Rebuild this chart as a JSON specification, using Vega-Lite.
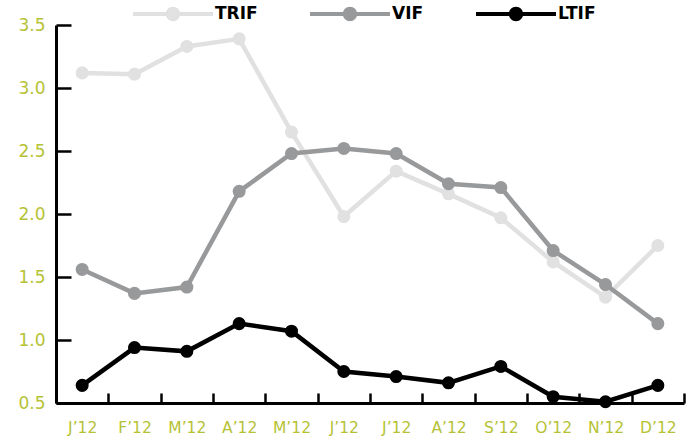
{
  "$schema": "https://vega.github.io/schema/vega-lite/v6.json",
  "width": 628,
  "height": 378,
  "autosize": {"type": "none"},
  "padding": {"left": 56, "top": 25, "right": 10, "bottom": 36},
  "background": "white",
  "config": {
    "view": {"stroke": null},
    "font": "DejaVu Sans"
  },
  "data": {
    "values": [
      {"m": 1, "series": "TRIF", "value": 3.12},
      {"m": 2, "series": "TRIF", "value": 3.11},
      {"m": 3, "series": "TRIF", "value": 3.33},
      {"m": 4, "series": "TRIF", "value": 3.39},
      {"m": 5, "series": "TRIF", "value": 2.65},
      {"m": 6, "series": "TRIF", "value": 1.98},
      {"m": 7, "series": "TRIF", "value": 2.34},
      {"m": 8, "series": "TRIF", "value": 2.16},
      {"m": 9, "series": "TRIF", "value": 1.97},
      {"m": 10, "series": "TRIF", "value": 1.62},
      {"m": 11, "series": "TRIF", "value": 1.34},
      {"m": 12, "series": "TRIF", "value": 1.75},
      {"m": 1, "series": "VIF", "value": 1.56},
      {"m": 2, "series": "VIF", "value": 1.37},
      {"m": 3, "series": "VIF", "value": 1.42},
      {"m": 4, "series": "VIF", "value": 2.18},
      {"m": 5, "series": "VIF", "value": 2.48},
      {"m": 6, "series": "VIF", "value": 2.52},
      {"m": 7, "series": "VIF", "value": 2.48},
      {"m": 8, "series": "VIF", "value": 2.24},
      {"m": 9, "series": "VIF", "value": 2.21},
      {"m": 10, "series": "VIF", "value": 1.71},
      {"m": 11, "series": "VIF", "value": 1.44},
      {"m": 12, "series": "VIF", "value": 1.13},
      {"m": 1, "series": "LTIF", "value": 0.64},
      {"m": 2, "series": "LTIF", "value": 0.94},
      {"m": 3, "series": "LTIF", "value": 0.91},
      {"m": 4, "series": "LTIF", "value": 1.13},
      {"m": 5, "series": "LTIF", "value": 1.07},
      {"m": 6, "series": "LTIF", "value": 0.75},
      {"m": 7, "series": "LTIF", "value": 0.71},
      {"m": 8, "series": "LTIF", "value": 0.66},
      {"m": 9, "series": "LTIF", "value": 0.79},
      {"m": 10, "series": "LTIF", "value": 0.55},
      {"m": 11, "series": "LTIF", "value": 0.51},
      {"m": 12, "series": "LTIF", "value": 0.64}
    ]
  },
  "mark": {"type": "line", "strokeWidth": 4.5, "point": {"size": 170, "filled": true, "opacity": 1}},
  "encoding": {
    "x": {
      "field": "m",
      "type": "ordinal",
      "scale": {"paddingInner": 0, "paddingOuter": 0},
      "axis": {
        "title": null,
        "labelAngle": 0,
        "labelExpr": "['J’12','F’12','M’12','A’12','M’12','J’12','J’12','A’12','S’12','O’12','N’12','D’12'][datum.value - 1]",
        "labelColor": "#b5c234",
        "labelFontSize": 15.5,
        "labelPadding": 27,
        "tickBand": "extent",
        "tickSize": -10,
        "tickWidth": 2.5,
        "tickColor": "black",
        "domainColor": "black",
        "domainWidth": 3,
        "grid": false
      }
    },
    "y": {
      "field": "value",
      "type": "quantitative",
      "scale": {"domain": [0.5, 3.5], "nice": false, "zero": false},
      "axis": {
        "title": null,
        "values": [0.5, 1, 1.5, 2, 2.5, 3, 3.5],
        "format": ".1f",
        "labelColor": "#b5c234",
        "labelFontSize": 17,
        "labelPadding": 26,
        "tickSize": -15,
        "tickWidth": 2.5,
        "tickColor": "black",
        "domainColor": "black",
        "domainWidth": 3,
        "grid": false
      }
    },
    "color": {
      "field": "series",
      "type": "nominal",
      "scale": {"domain": ["TRIF", "VIF", "LTIF"], "range": ["#e1e1e1", "#98999b", "#000000"]},
      "legend": {
        "title": null,
        "orient": "none",
        "direction": "horizontal",
        "legendX": 77,
        "legendY": -51,
        "symbolType": "M-1,-0.05H1V0.05H-1Z M0.18,0A0.18,0.18 0 1,1 -0.18,0A0.18,0.18 0 1,1 0.18,0Z",
        "symbolSize": 6400,
        "symbolStrokeWidth": 0,
        "labelFont": "DejaVu Sans",
        "labelFontSize": 17,
        "labelFontWeight": "bold",
        "labelColor": "black",
        "labelOffset": 2,
        "columnPadding": 52
      }
    }
  }
}
